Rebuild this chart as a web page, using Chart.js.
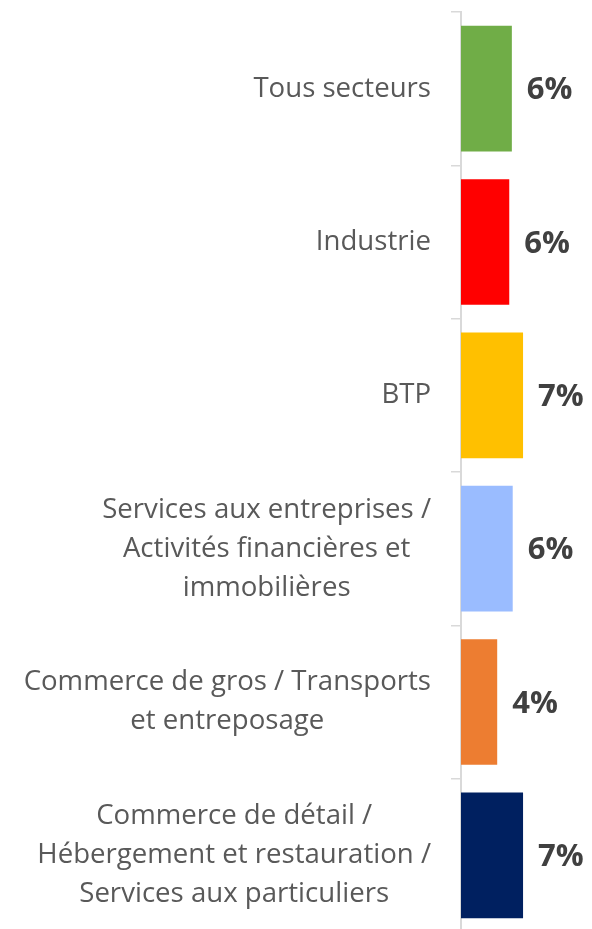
<!DOCTYPE html>
<html>
<head>
<meta charset="utf-8">
<script src="https://cdn.jsdelivr.net/npm/chart.js@4"></script>
<style>
  html, body { margin: 0; padding: 0; background: #fff; overflow: hidden; }
  #wrap { position: relative; width: 592px; height: 940px; }
</style>
</head>
<body>
<div id="wrap"><canvas id="myChart"></canvas></div>
<script>
// sectors, one line per array entry so the labels wrap where we want
const secteurs = [
  ['Tous secteurs'],
  ['Industrie'],
  ['BTP'],
  ['Services aux entreprises /', 'Activités financières et', 'immobilières'],
  ['Commerce de gros / Transports', 'et entreposage'],
  ['Commerce de détail /', 'Hébergement et restauration /', 'Services aux particuliers']
];
const parts = [5.9, 5.6, 7.2, 6.0, 4.2, 7.2];
const couleurs = ['#70AD47', '#FF0000', '#FFC000', '#9ABCFF', '#ED7D31', '#002060'];

// category names: right-aligned block, each line centred inside it
const sectorLabels = {
  id: 'sectorLabels',
  afterDraw(chart) {
    const ctx = chart.ctx;
    const y = chart.scales.y;
    const right = chart.chartArea.left - 30;
    const lineH = 39;
    ctx.save();
    ctx.font = '27.6px "Open Sans"';
    ctx.fillStyle = '#595959';
    ctx.textAlign = 'center';
    ctx.textBaseline = 'middle';
    secteurs.forEach((lines, i) => {
      const widest = Math.max(...lines.map(l => ctx.measureText(l).width));
      const cx = right - widest / 2;
      const cy = y.getPixelForValue(i);
      const top = cy - (lines.length - 1) * lineH / 2;
      lines.forEach((l, j) => ctx.fillText(l, cx, top + j * lineH));
    });
    ctx.restore();
  }
};

// percentage next to each bar
const valueLabels = {
  id: 'valueLabels',
  afterDatasetsDraw(chart) {
    const ctx = chart.ctx;
    const meta = chart.getDatasetMeta(0);
    ctx.save();
    ctx.font = 'bold 31px "Open Sans"';
    ctx.fillStyle = '#404040';
    ctx.textAlign = 'left';
    ctx.textBaseline = 'middle';
    meta.data.forEach((bar, i) => {
      ctx.fillText(Math.round(parts[i]) + '%', bar.x + 15, bar.y + 2);
    });
    ctx.restore();
  }
};

const ctx = document.getElementById('myChart').getContext('2d');
const myChart = new Chart(ctx, {
  type: 'bar',
  data: {
    labels: secteurs.map(s => s.join(' ')),
    datasets: [{
      data: parts,
      backgroundColor: couleurs,
      categoryPercentage: 1,
      barPercentage: 0.82
    }]
  },
  options: {
    indexAxis: 'y',
    responsive: true,
    maintainAspectRatio: false,
    animation: false,
    layout: { padding: { top: 12, bottom: 8, right: 0, left: 0 } },
    plugins: {
      legend: { display: false },
      tooltip: { enabled: false }
    },
    scales: {
      x: {
        display: false,
        min: 0,
        max: 15.2
      },
      y: {
        afterFit(scale) { scale.width = 461; },
        border: { color: '#D9D9D9', width: 2 },
        grid: {
          offset: true,
          drawOnChartArea: false,
          drawTicks: true,
          tickLength: 10,
          color: '#D9D9D9',
          lineWidth: 1.5
        },
        ticks: { display: false }
      }
    }
  },
  plugins: [sectorLabels, valueLabels]
});
</script>
</body>
</html>
